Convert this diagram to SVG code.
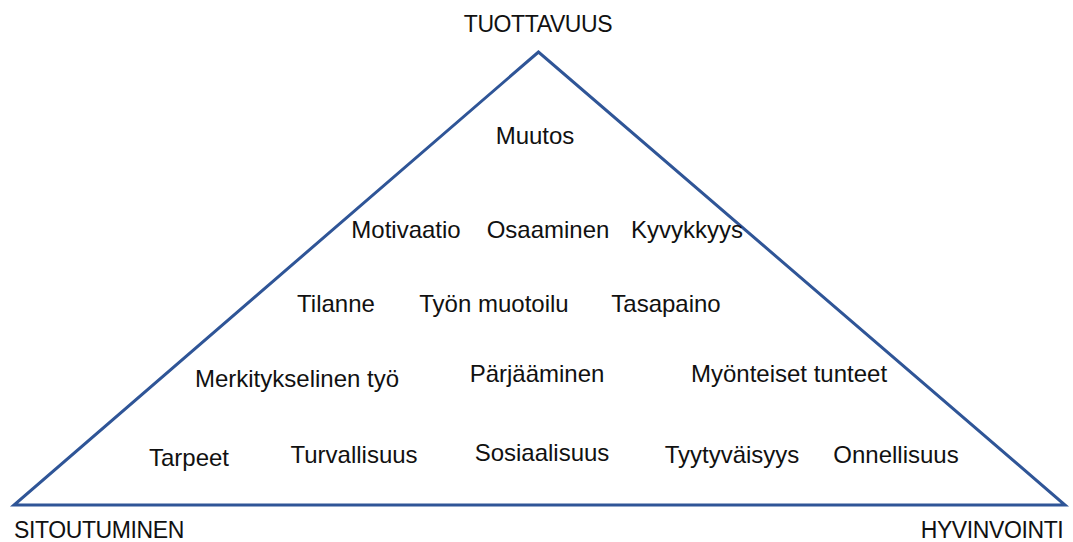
<svg xmlns="http://www.w3.org/2000/svg" width="1073" height="542" viewBox="0 0 1073 542">
  <style>
    .lbl { font-family: "Liberation Sans", Arial, sans-serif; font-size: 24px; fill: #111; text-anchor: middle; }
    .cap { font-size: 23px; letter-spacing: -0.4px; }
    .tri { fill: none; stroke: #2F5597; stroke-width: 3; stroke-linejoin: miter; }
  </style>
  <rect width="1073" height="542" fill="#fff"/>
  <g id="connectors">
    <polygon class="tri" points="538.5,52 14,505 1065,505"/>
  </g>
  <g id="corner-top"><text class="lbl cap" x="538" y="32">TUOTTAVUUS</text></g>
  <g id="corner-left"><text class="lbl cap" x="99" y="538">SITOUTUMINEN</text></g>
  <g id="corner-right"><text class="lbl cap" x="992" y="538">HYVINVOINTI</text></g>
  <g id="muutos"><text class="lbl" x="535" y="144">Muutos</text></g>
  <g id="motivaatio"><text class="lbl" x="406" y="238">Motivaatio</text></g>
  <g id="osaaminen"><text class="lbl" x="548" y="238">Osaaminen</text></g>
  <g id="kyvykkyys"><text class="lbl" x="687" y="238">Kyvykkyys</text></g>
  <g id="tilanne"><text class="lbl" x="336" y="312">Tilanne</text></g>
  <g id="tyon-muotoilu"><text class="lbl" x="494" y="312">Työn muotoilu</text></g>
  <g id="tasapaino"><text class="lbl" x="666" y="312">Tasapaino</text></g>
  <g id="merkityksellinen-tyo"><text class="lbl" x="297" y="387">Merkitykselinen työ</text></g>
  <g id="parjaaminen"><text class="lbl" x="537" y="382">Pärjääminen</text></g>
  <g id="myonteiset-tunteet"><text class="lbl" x="789" y="382">Myönteiset tunteet</text></g>
  <g id="tarpeet"><text class="lbl" x="189" y="466">Tarpeet</text></g>
  <g id="turvallisuus"><text class="lbl" x="354" y="463">Turvallisuus</text></g>
  <g id="sosiaalisuus"><text class="lbl" x="542" y="461">Sosiaalisuus</text></g>
  <g id="tyytyvaisyys"><text class="lbl" x="732" y="463">Tyytyväisyys</text></g>
  <g id="onnellisuus"><text class="lbl" x="896" y="463">Onnellisuus</text></g>
</svg>
